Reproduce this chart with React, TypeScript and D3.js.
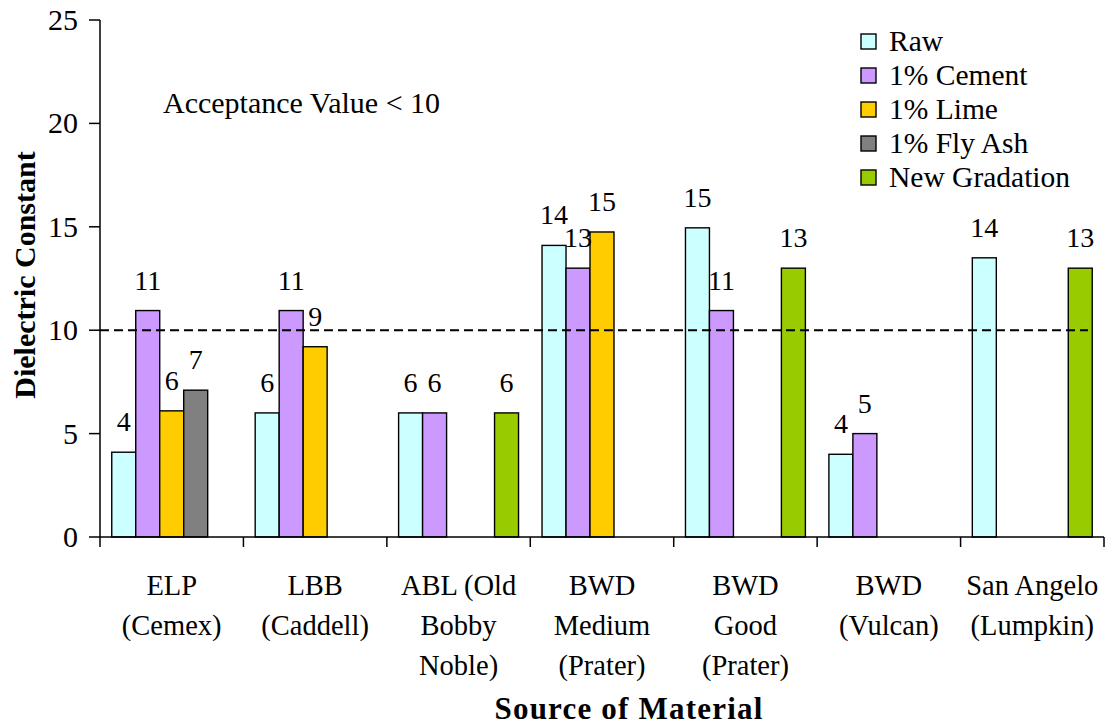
import React from "react";
import * as d3 from "d3";

const categories = [
  ["ELP", "(Cemex)"],
  ["LBB", "(Caddell)"],
  ["ABL (Old", "Bobby", "Noble)"],
  ["BWD", "Medium", "(Prater)"],
  ["BWD", "Good", "(Prater)"],
  ["BWD", "(Vulcan)"],
  ["San Angelo", "(Lumpkin)"],
];
const seriesNames = ["Raw", "1% Cement", "1% Lime", "1% Fly Ash", "New Gradation"];
const seriesColors = ["#CCFFFF", "#CC99FF", "#FFCC00", "#808080", "#99CC00"];
const rawValues = [4.1, 6.0, 6.0, 14.1, 14.95, 4.0, 13.5];
const cementValues = [10.95, 10.95, 6.0, 13.0, 10.95, 5.0, null];
const limeValues = [6.1, 9.2, null, 14.75, null, null, null];
const flyAshValues = [7.1, null, null, null, null, null, null];
const newGradationValues = [null, null, 6.0, null, 13.0, null, 13.0];
const yTicks = [0, 5, 10, 15, 20, 25];
const acceptanceValue = 10;

const W = 1107;
const H = 727;
const serif = "'Liberation Serif', 'Times New Roman', serif";

export default function App() {
  const series = [rawValues, cementValues, limeValues, flyAshValues, newGradationValues];
  const x0 = d3.scaleBand<number>().domain(d3.range(categories.length)).range([100, 1104]).padding(0);
  const x1 = d3
    .scaleBand<number>()
    .domain(d3.range(seriesNames.length))
    .range([0, x0.bandwidth()])
    .paddingInner(0)
    .paddingOuter(0.49);
  const y = d3.scaleLinear().domain([0, 25]).range([537, 20]);

  const bars: any[] = [];
  const labels: any[] = [];
  series.forEach((vals, si) => {
    vals.forEach((v, ci) => {
      if (v == null) return;
      const bx = (x0(ci) as number) + (x1(si) as number);
      const bw = x1.bandwidth();
      bars.push(
        <rect
          key={`b${si}-${ci}`}
          x={bx}
          y={y(v)}
          width={bw}
          height={y(0) - y(v)}
          fill={seriesColors[si]}
          stroke="#000"
          strokeWidth={1.4}
        />
      );
      labels.push(
        <text
          key={`l${si}-${ci}`}
          x={bx + bw / 2}
          y={y(v) - 21}
          textAnchor="middle"
          fontSize={28}
          fontFamily={serif}
        >
          {Math.round(v)}
        </text>
      );
    });
  });

  return (
    <svg width={W} height={H} style={{ position: "absolute", left: 0, top: 0 }} fontFamily={serif}>
      <rect width={W} height={H} fill="#fff" />
      {bars}
      <line
        x1={100}
        x2={1088}
        y1={y(acceptanceValue)}
        y2={y(acceptanceValue)}
        stroke="#000"
        strokeWidth={2}
        strokeDasharray="9,5"
      />
      {labels}
      <line x1={100} x2={100} y1={y(25)} y2={y(0)} stroke="#000" strokeWidth={1.5} />
      {yTicks.map((t) => (
        <g key={`yt${t}`}>
          <line x1={89} x2={100} y1={y(t)} y2={y(t)} stroke="#000" strokeWidth={1.5} />
          <text x={78} y={y(t) + 10} textAnchor="end" fontSize={30}>
            {t}
          </text>
        </g>
      ))}
      <line x1={100} x2={1104} y1={y(0)} y2={y(0)} stroke="#000" strokeWidth={1.5} />
      {d3.range(categories.length + 1).map((i) => {
        const xx = i < categories.length ? (x0(i) as number) : 1104;
        return <line key={`xt${i}`} x1={xx} x2={xx} y1={y(0)} y2={y(0) + 10} stroke="#000" strokeWidth={1.5} />;
      })}
      {categories.map((lines, ci) => (
        <text
          key={`c${ci}`}
          x={(x0(ci) as number) + x0.bandwidth() / 2}
          textAnchor="middle"
          fontSize={28.5}
        >
          {lines.map((ln, li) => (
            <tspan key={li} x={(x0(ci) as number) + x0.bandwidth() / 2} y={595 + li * 40}>
              {ln}
            </tspan>
          ))}
        </text>
      ))}
      <text x={629} y={719} textAnchor="middle" fontSize={31} fontWeight="bold" letterSpacing={1.2}>
        Source of Material
      </text>
      <text
        transform="translate(35,275) rotate(-90)"
        textAnchor="middle"
        fontSize={30}
        fontWeight="bold"
      >
        Dielectric Constant
      </text>
      <text x={163} y={113} fontSize={30}>
        Acceptance Value &lt; 10
      </text>
      {seriesNames.map((nm, i) => (
        <g key={`lg${i}`} transform={`translate(861, ${42 + i * 34})`}>
          <rect x={0} y={-8} width={15} height={15} fill={seriesColors[i]} stroke="#000" strokeWidth={1.4} />
          <text x={28} y={9} fontSize={29.5}>
            {nm}
          </text>
        </g>
      ))}
    </svg>
  );
}
